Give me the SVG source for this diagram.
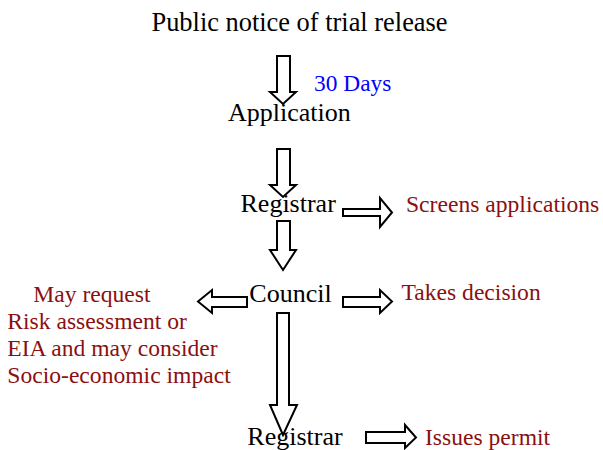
<svg xmlns="http://www.w3.org/2000/svg" width="603" height="450" viewBox="0 0 603 450">
<style>
.n{font-family:"Liberation Serif","Times New Roman",serif;font-size:26px;fill:#000}
.r{font-family:"Liberation Serif","Times New Roman",serif;font-size:23.6px;fill:#8b1010}
.b{font-family:"Liberation Serif","Times New Roman",serif;font-size:23.4px;fill:#0000ff}
.a{fill:#fff;stroke:#000;stroke-width:2;stroke-linejoin:miter}
</style>
<rect width="603" height="450" fill="#fff"/>
<g id="connectors">
<polygon class="a" points="277,56 290,56 290,92 296,92 283,104 270,92 277,92"/>
<polygon class="a" points="277,149 290,149 290,185 296,185 283,197 270,185 277,185"/>
<polygon class="a" points="277,221 290,221 290,250 296,250 283,270 270,250 277,250"/>
<polygon class="a" points="343,209 380,209 380,198 392,212.5 380,227 380,216 343,216"/>
<polygon class="a" points="247,297 212,297 212,290 198,301.5 212,313 212,307 247,307"/>
<polygon class="a" points="343,297 380,297 380,290 392,301.5 380,313 380,307 343,307"/>
<polygon class="a" points="277,313 289,313 289,405 297,405 283,435 270,405 277,405"/>
<polygon class="a" points="366,432 405,432 405,425 416,437.5 405,448 405,443 366,443"/>
</g>
<g id="public-notice"><text class="n" x="151.5" y="31" style="font-size:26.4px">Public notice of trial release</text></g>
<g id="days"><text class="b" x="314" y="91">30 Days</text></g>
<g id="application"><text class="n" x="228" y="120.5">Application</text></g>
<g id="registrar1"><text class="n" x="240.5" y="211.5">Registrar</text></g>
<g id="screens"><text class="r" x="406" y="211.5">Screens applications</text></g>
<g id="council"><text class="n" x="249.3" y="301.5">Council</text></g>
<g id="takes-decision"><text class="r" x="401.5" y="300">Takes decision</text></g>
<g id="may-request">
<text class="r" x="33.3" y="301.5">May request</text>
<text class="r" x="7.3" y="328.5">Risk assessment or</text>
<text class="r" x="7.3" y="356">EIA and may consider</text>
<text class="r" x="7.3" y="383.3">Socio-economic impact</text>
</g>
<g id="registrar2"><text class="n" x="247.3" y="445">Registrar</text></g>
<g id="issues-permit"><text class="r" x="425" y="445">Issues permit</text></g>
</svg>
